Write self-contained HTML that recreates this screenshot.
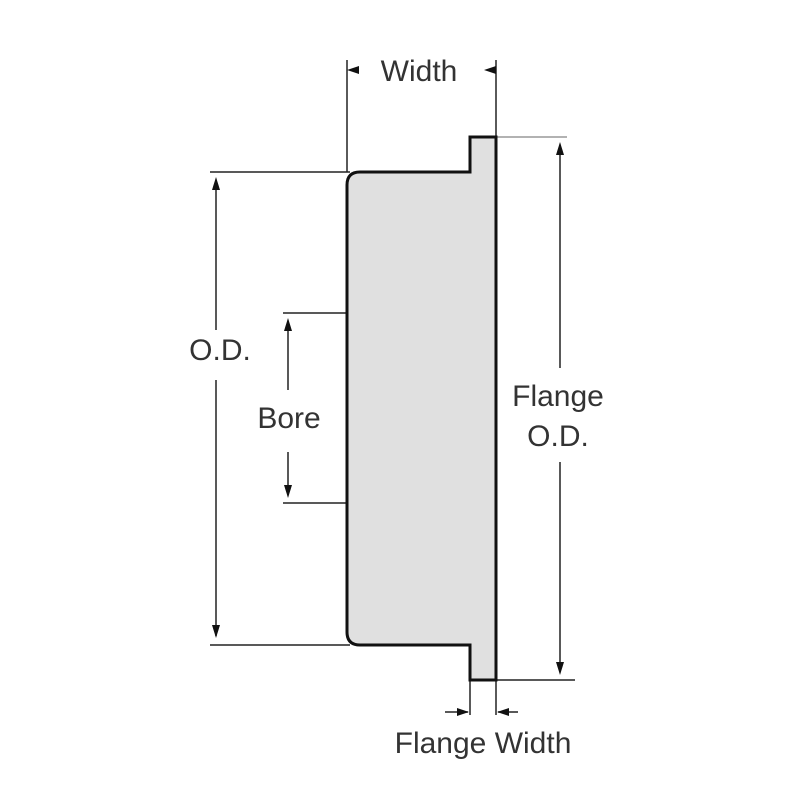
<!DOCTYPE html>
<html><head><style>body{margin:0;background:#fff}</style></head><body>
<svg width="800" height="800" xmlns="http://www.w3.org/2000/svg" font-family="Liberation Sans, sans-serif" fill="#222">
<rect width="800" height="800" fill="#fff"/>
<g stroke="#222" stroke-width="1.5" fill="none">
<line x1="347" y1="60" x2="347" y2="172"/>
<line x1="496" y1="60" x2="496" y2="137"/>
<line x1="210" y1="172" x2="350" y2="172"/>
<line x1="210" y1="645" x2="350" y2="645"/>
<line x1="216" y1="180" x2="216" y2="636"/>
<line x1="283" y1="313" x2="347" y2="313"/>
<line x1="283" y1="503" x2="347" y2="503"/>
<line x1="288" y1="322" x2="288" y2="495"/>
<line x1="496" y1="137" x2="567" y2="137" stroke="#999"/>
<line x1="496" y1="680" x2="575" y2="680"/>
<line x1="560" y1="147" x2="560" y2="670"/>
<line x1="470" y1="680" x2="470" y2="715"/>
<line x1="496" y1="680" x2="496" y2="715"/>
<line x1="445" y1="712" x2="468" y2="712"/>
<line x1="498" y1="712" x2="518" y2="712"/>
</g>
<path d="M360 172 H470 V137 H496 V680 H470 V645 H360 Q347 645 347 632 V185 Q347 172 360 172 Z" fill="#e0e0e0" stroke="#111" stroke-width="3"/>
<g fill="#fff">
<rect x="183" y="330" width="74" height="50"/>
<rect x="248" y="390" width="80" height="62"/>
<rect x="503" y="368" width="110" height="94"/>
</g>
<g fill="#111">
<polygon points="347,70 359,66 359,74"/>
<polygon points="484,70 496,66 496,74"/>
<polygon points="216,177 212,190 220,190"/>
<polygon points="216,638 212,625 220,625"/>
<polygon points="288,318 284,331 292,331"/>
<polygon points="288,498 284,485 292,485"/>
<polygon points="560,142 556,155 564,155"/>
<polygon points="560,675 556,662 564,662"/>
<polygon points="469,712 457,708 457,716"/>
<polygon points="497,712 509,708 509,716"/>
</g>
<g font-size="30" fill="#333" text-anchor="middle">
<text x="419" y="81">Width</text>
<text x="220" y="360">O.D.</text>
<text x="289" y="428">Bore</text>
<text x="558" y="406">Flange</text>
<text x="558" y="446">O.D.</text>
<text x="483" y="753">Flange Width</text>
</g>
</svg>
</body></html>
